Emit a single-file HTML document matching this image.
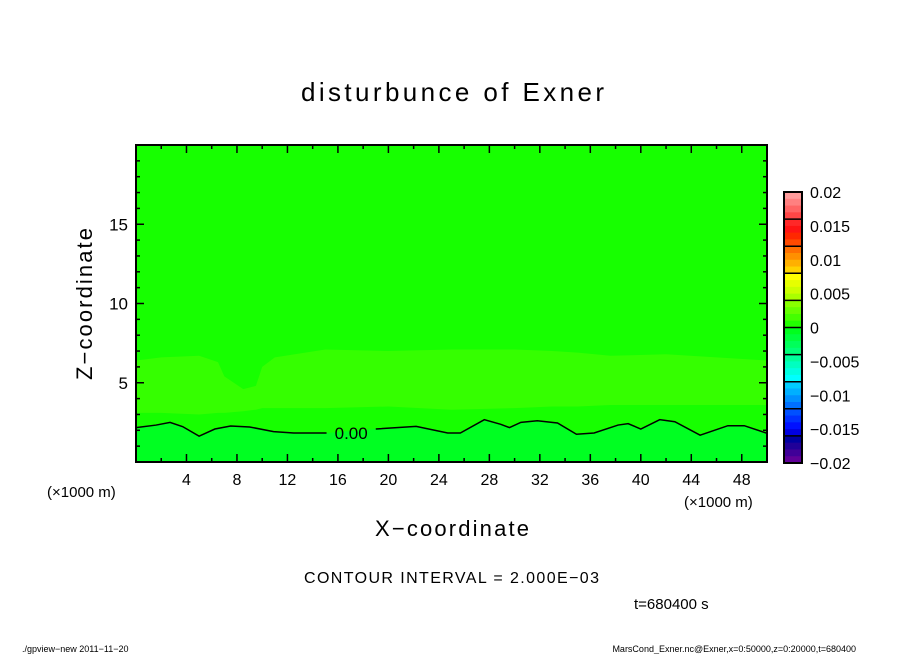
<!DOCTYPE html>
<html><head><meta charset="utf-8"><style>
html,body{margin:0;padding:0;background:#fff;}
svg{display:block;font-family:"Liberation Sans",sans-serif;}
</style></head><body>
<svg id="chart" width="904" height="654" viewBox="0 0 904 654" xmlns="http://www.w3.org/2000/svg">
<text x="301" y="101" font-size="26" textLength="303" lengthAdjust="spacing">disturbunce of Exner</text>
<text transform="translate(92,380) rotate(-90)" font-size="22" textLength="152" lengthAdjust="spacing">Z−coordinate</text>
<text x="375" y="536" font-size="22" textLength="154" lengthAdjust="spacing">X−coordinate</text>
<text x="47" y="497" font-size="15">(×1000 m)</text>
<text x="684" y="507" font-size="15">(×1000 m)</text>
<text x="304" y="583" font-size="16" textLength="295" lengthAdjust="spacing">CONTOUR INTERVAL = 2.000E−03</text>
<text x="634" y="609" font-size="15">t=680400 s</text>
<text x="22" y="652" font-size="9">./gpview−new  2011−11−20</text>
<text x="856" y="652" font-size="9" text-anchor="end">MarsCond_Exner.nc@Exner,x=0:50000,z=0:20000,t=680400</text>
<g id="plot"></g>
<g id="cbar"></g>
</svg>
<script>
const xTicks=[4,8,12,16,20,24,28,32,36,40,44,48];
const zTicks=[5,10,15];
const contourX=[0,1.6,2.7,3.7,5.0,6.25,7.5,9.0,10.9,12.5,15.1,19.0,22.2,24.7,25.7,27.6,28.9,29.6,30.5,31.8,33.4,34.9,36.3,38.2,39.0,40.0,41.5,42.7,44.7,46.9,48.2,50];
const contourZ=[2.17,2.33,2.5,2.23,1.63,2.08,2.27,2.21,1.92,1.83,1.83,2.08,2.25,1.83,1.83,2.67,2.38,2.17,2.5,2.6,2.46,1.75,1.83,2.33,2.42,2.08,2.67,2.54,1.69,2.29,2.29,1.81];
const bandX=[0,2,5,6.5,7,8.5,9.5,10,11,15,20,25,30,33,35,37.6,42,46,50];
const bandTopZ=[6.4,6.6,6.7,6.3,5.4,4.6,4.8,6.0,6.6,7.1,7.0,7.1,7.1,7.0,6.9,6.7,6.8,6.6,6.4];
const bandBotZ=[3.1,3.1,3.0,3.1,3.1,3.2,3.3,3.4,3.4,3.4,3.5,3.3,3.4,3.5,3.5,3.6,3.6,3.6,3.6];
const cbarLevels=[0.02,0.015,0.01,0.005,0,-0.005,-0.01,-0.015,-0.02];
const cbarColors=["#ff9c9c","#ff8080","#ff6464","#ff4646","#ff2828","#ff1414","#ff2800","#ff4a00","#ff7000","#ff9000","#ffb000","#ffd200","#ffff00","#e6ff00","#ccff00","#aaff00","#88ff00","#66ff00","#44ff00","#22ff00","#00ff1e","#00ff3c","#00ff5a","#00ff78","#00ff9c","#00ffc0","#00ffe0","#00ffff","#00ccff","#00b0ff","#0090ff","#0070ff","#0050ff","#0030ff","#0010ff","#0000e0","#0000a0","#200098","#400098","#600098"];
const NS="http://www.w3.org/2000/svg";
const L=136,R=767,T=145,B=462;
const X=x=>L+x/50*(R-L);
const Y=z=>B-z/20*(B-T);
function mk(tag,attrs,parent){const e=document.createElementNS(NS,tag);for(const k in attrs)e.setAttribute(k,attrs[k]);parent.appendChild(e);return e;}
const plot=document.getElementById('plot');
let e=mk('rect',{x:L,y:T,width:R-L,height:B-T,fill:'#17ff00'},plot);


let bp=bandX.map((x,i)=>X(x)+','+Y(bandTopZ[i]));
for(let i=bandX.length-1;i>=0;i--)bp.push(X(bandX[i])+','+Y(bandBotZ[i]));
e=mk('polygon',{points:bp.join(' '),fill:'#35ff00'},plot);


let lp=contourX.map((x,i)=>X(x)+','+Y(contourZ[i]));
e=mk('polygon',{points:lp.join(' ')+' '+X(50)+','+B+' '+X(0)+','+B,fill:'#00ff22'},plot);


const i1=contourX.indexOf(15.1),i2=contourX.indexOf(19.0);
e=mk('polyline',{points:lp.slice(0,i1+1).join(' '),fill:'none',stroke:'#000','stroke-width':1.5},plot);


e=mk('polyline',{points:lp.slice(i2).join(' '),fill:'none',stroke:'#000','stroke-width':1.5},plot);


e=mk('text',{x:(X(15.1)+X(19.0))/2,y:Y(1.9)+7,'font-size':17,'text-anchor':'middle'},plot);
e.textContent='0.00';


e=mk('rect',{x:L,y:T,width:R-L,height:B-T,fill:'none',stroke:'#000','stroke-width':2},plot);


for(let v=1;v<50;v++){if(v%2)continue;const maj=v%4===0;
 for(const [y0,d] of [[B,-1],[T,1]]){e=mk('line',{x1:X(v),x2:X(v),y1:y0,y2:y0+d*(maj?8:4),stroke:'#000','stroke-width':1.5},plot);
 
 }}
for(let v=1;v<20;v++){const maj=v%5===0;
 for(const [x0,d] of [[L,1],[R,-1]]){e=mk('line',{x1:x0,x2:x0+d*(maj?8:4),y1:Y(v),y2:Y(v),stroke:'#000','stroke-width':1.5},plot);
 
 }}
xTicks.forEach(v=>{e=mk('text',{x:X(v),y:485,'font-size':16,'text-anchor':'middle'},plot);e.textContent=v;
 
 });
zTicks.forEach(v=>{e=mk('text',{x:128,y:Y(v)+6,'font-size':17,'text-anchor':'end'},plot);e.textContent=v;
 
 });
const cb=document.getElementById('cbar');
const cL=784,cW=18,cT=192,cB=463;
const vmax=cbarLevels[0],vmin=cbarLevels[cbarLevels.length-1];
const CY=v=>cT+(vmax-v)/(vmax-vmin)*(cB-cT);
const n=cbarColors.length,step=(vmax-vmin)/n;
cbarColors.forEach((c,i)=>{const v0=vmax-i*step,v1=v0-step;
 e=mk('rect',{x:cL,y:CY(v0),width:cW,height:CY(v1)-CY(v0)+0.5,fill:c},cb);
 
 });
for(let i=4;i<n;i+=4){const y=CY(vmax-i*step);
 e=mk('line',{x1:cL,x2:cL+cW,y1:y,y2:y,stroke:'#000','stroke-width':1.5},cb);
 
 }
e=mk('rect',{x:cL,y:cT,width:cW,height:cB-cT,fill:'none',stroke:'#000','stroke-width':2},cb);


cbarLevels.forEach(v=>{e=mk('text',{x:810,y:CY(v)+6,'font-size':16},cb);
 e.textContent=v<0?'−'+String(-v):String(v);
 
 });
</script>
</body></html>
